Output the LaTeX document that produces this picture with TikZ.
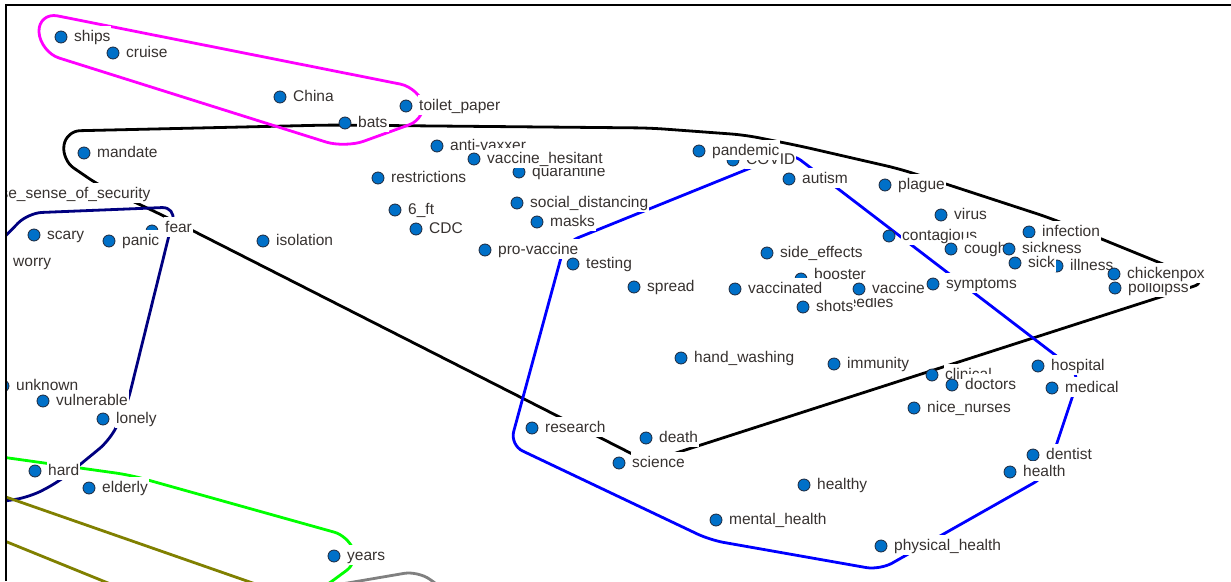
\documentclass[tikz,border=0pt]{standalone}
\usepackage{fontspec}
\setmainfont{Liberation Sans}
\definecolor{dotblue}{RGB}{0,112,200}
\definecolor{dotedge}{RGB}{30,40,60}
\definecolor{txt}{RGB}{55,50,48}
\definecolor{hullnavy}{RGB}{0,0,128}
\definecolor{hullolive}{RGB}{128,128,0}
\definecolor{hullgray}{RGB}{128,128,128}
\definecolor{hullgreen}{RGB}{0,255,0}
\definecolor{hullblue}{RGB}{0,0,255}
\definecolor{hullmag}{RGB}{255,0,255}
\tikzset{
  cdot/.style={circle, fill=dotblue, draw=dotedge, line width=0.8pt, minimum size=12pt, inner sep=0pt},
  lbl/.style={anchor=base west, fill=white, text=txt, inner xsep=1pt, inner ysep=1.5pt,
    text height=14pt, text depth=3pt, font=\fontsize{15.5}{18}\selectfont},
  hull/.style={line width=2.8pt, rounded corners=14pt, line join=round},
  frameline/.style={line width=1.6pt, draw=black}
}
\newcommand\cmnode[4]{%
  \node[cdot] (#1) at (#2,#3) {};
  \node[lbl] (#1l) at ([shift={(12,4)}]#1.center) {#4};}
\begin{document}
\begin{tikzpicture}[x=1pt,y=-1pt]
\useasboundingbox (0,0) rectangle (1231,581);
\fill[white] (0,0) rectangle (1231,581);
\begin{scope}
\clip (7,6) rectangle (1231,581);
% hulls
\draw[hull, draw=black] (160,214) -- (100,186) -- (62,160) -- (66,131) -- (330,125) -- (650,128)
  -- (745,135) -- (800,146) -- (900,169) -- (1050,218) -- (1207,282) -- (648,462) -- cycle;
\draw[hull, draw=hullmag, rounded corners=20pt] (38,12) -- (420,88) -- (428,118) -- (345,148) -- (40,52) -- cycle;
\draw[hull, draw=hullnavy] (-20,262) -- (28,213) -- (176,207) -- (127,405) -- (110,440)
  -- (60,481) -- (30,497) -- (-20,505);
\draw[hull, draw=hullgreen] (-20,454) -- (130,475) -- (348,536) -- (358,562) -- (320,590) -- (-20,600);
\draw[hull, draw=hullolive] (-20,488) -- (290,596) -- (140,596) -- (-20,531);
\draw[hull, draw=hullgray] (330,586) -- (418,571) -- (445,590);
\draw[hull, draw=hullblue] (790,152) -- (565,243) -- (510,445) -- (710,540) -- (880,570)
  -- (1046,476) -- (1080,374) -- cycle;
% concepts
\cmnode{ships}{61}{37}{ships}
\cmnode{cruise}{113}{53}{cruise}
\cmnode{china}{280}{97}{China}
\cmnode{bats}{345}{123}{bats}
\cmnode{toilet}{406}{106}{toilet\_paper}
\cmnode{mandate}{84}{153}{mandate}
\cmnode{falsesense}{-29}{194}{false\_sense\_of\_security}
\cmnode{quarantine}{519}{172}{quarantine}
\cmnode{antivax}{437}{146}{anti-vaxxer}
\cmnode{hesitant}{474}{159}{vaccine\_hesitant}
\cmnode{restrictions}{378}{178}{restrictions}
\cmnode{covid}{733}{160}{COVID}
\cmnode{pandemic}{699}{151}{pandemic}
\cmnode{sixft}{395}{210}{6\_ft}
\cmnode{cdc}{416}{229}{CDC}
\cmnode{socdist}{517}{203}{social\_distancing}
\cmnode{masks}{537}{222}{masks}
\cmnode{provax}{485}{250}{pro-vaccine}
\cmnode{testing}{573}{264}{testing}
\cmnode{spread}{634}{287}{spread}
\cmnode{autism}{789}{179}{autism}
\cmnode{plague}{885}{185}{plague}
\cmnode{virus}{941}{215}{virus}
\cmnode{contagious}{889}{236}{contagious}
\cmnode{infection}{1029}{232}{infection}
\cmnode{cough}{951}{249}{cough}
\cmnode{sickness}{1009}{249}{sickness}
\cmnode{illness}{1057}{266}{illness}
\cmnode{sick}{1015}{263}{sick}
\cmnode{polio}{1115}{288}{polloipss}
\cmnode{chickenpox}{1114}{274}{chickenpox}
\cmnode{sideeff}{767}{253}{side\_effects}
\node[cdot] (booster) at (801,279) {};
\node[lbl] (boosterl) at ([shift={(12,0)}]booster.center) {booster};
\cmnode{needles}{826}{303}{needles}
\cmnode{vaccinated}{735}{289}{vaccinated}
\cmnode{vaccine}{859}{289}{vaccine}
\cmnode{symptoms}{933}{284}{symptoms}
\cmnode{shots}{803}{307}{shots}
\node[cdot] (fear) at (152,231) {};
\node[lbl] (fearl) at ([shift={(12,1)}]fear.center) {fear};
\cmnode{scary}{34}{235}{scary}
\cmnode{panic}{109}{241}{panic}
\cmnode{isolation}{263}{241}{isolation}
\cmnode{worry}{0}{262}{worry}
\cmnode{unknown}{3}{386}{unknown}
\cmnode{vulnerable}{43}{401}{vulnerable}
\cmnode{lonely}{103}{419}{lonely}
\cmnode{hard}{35}{471}{hard}
\cmnode{elderly}{89}{488}{elderly}
\cmnode{years}{334}{556}{years}
\cmnode{handwash}{681}{358}{hand\_washing}
\cmnode{immunity}{834}{364}{immunity}
\cmnode{clinical}{932}{375}{clinical}
\cmnode{doctors}{952}{385}{doctors}
\cmnode{nurses}{914}{408}{nice\_nurses}
\cmnode{hospital}{1038}{366}{hospital}
\cmnode{medical}{1052}{388}{medical}
\cmnode{research}{532}{428}{research}
\cmnode{death}{646}{438}{death}
\cmnode{science}{619}{463}{science}
\cmnode{healthy}{804}{485}{healthy}
\cmnode{mental}{716}{520}{mental\_health}
\cmnode{dentist}{1033}{455}{dentist}
\cmnode{health}{1010}{472}{health}
\cmnode{physical}{881}{546}{physical\_health}
\end{scope}
% frame
\coordinate (fTL) at (6,5);
\coordinate (fTR) at (1231,5);
\coordinate (fBL) at (6,581);
\draw[frameline] (fBL) -- (fTL) -- (fTR);
\end{tikzpicture}
\end{document}
